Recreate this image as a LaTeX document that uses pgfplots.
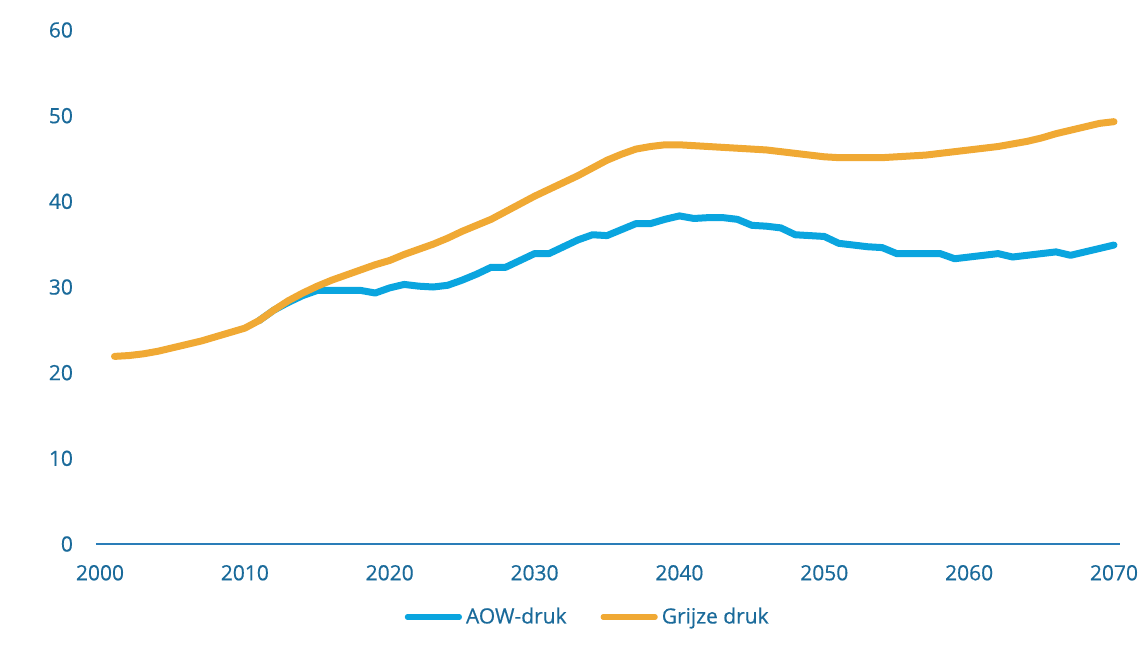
\documentclass[border=0pt]{standalone}
\usepackage{pgfplots}
\pgfplotsset{compat=1.18}
\usepackage{pgfplotstable}
\usepackage{fontspec}
\setmainfont{Open Sans}[FakeBold=0.5,AutoFakeBold=0]
\newfontfamily\lblfont{Open Sans}[FakeBold=0.5]
\definecolor{aowblue}{HTML}{0AA5DF}
\definecolor{grijsorange}{HTML}{F0A934}
\definecolor{tickblue}{HTML}{1A6A9A}
\definecolor{axisblue}{HTML}{2A7DB8}

\pgfplotstableread{
year val
2011 26.1
2012 27.3
2013 28.2
2014 29.0
2015 29.6
2016 29.6
2017 29.6
2018 29.6
2019 29.3
2020 29.9
2021 30.3
2022 30.1
2023 30.0
2024 30.2
2025 30.8
2026 31.5
2027 32.3
2028 32.3
2029 33.1
2030 33.9
2031 33.9
2032 34.7
2033 35.5
2034 36.1
2035 36.0
2036 36.7
2037 37.4
2038 37.4
2039 37.9
2040 38.3
2041 38.0
2042 38.1
2043 38.1
2044 37.9
2045 37.2
2046 37.1
2047 36.9
2048 36.1
2049 36.0
2050 35.9
2051 35.1
2052 34.9
2053 34.7
2054 34.6
2055 33.9
2056 33.9
2057 33.9
2058 33.9
2059 33.3
2060 33.5
2061 33.7
2062 33.9
2063 33.5
2064 33.7
2065 33.9
2066 34.1
2067 33.7
2068 34.1
2069 34.5
2070 34.9
}\aowdata

\pgfplotstableread{
year val
2001 21.9
2002 22.0
2003 22.2
2004 22.5
2005 22.9
2006 23.3
2007 23.7
2008 24.2
2009 24.7
2010 25.2
2011 26.1
2012 27.3
2013 28.4
2014 29.3
2015 30.1
2016 30.8
2017 31.4
2018 32.0
2019 32.6
2020 33.1
2021 33.8
2022 34.4
2023 35.0
2024 35.7
2025 36.5
2026 37.2
2027 37.9
2028 38.8
2029 39.7
2030 40.6
2031 41.4
2032 42.2
2033 43.0
2034 43.9
2035 44.8
2036 45.5
2037 46.1
2038 46.4
2039 46.6
2040 46.6
2041 46.5
2042 46.4
2043 46.3
2044 46.2
2045 46.1
2046 46.0
2047 45.8
2048 45.6
2049 45.4
2050 45.2
2051 45.1
2052 45.1
2053 45.1
2054 45.1
2055 45.2
2056 45.3
2057 45.4
2058 45.6
2059 45.8
2060 46.0
2061 46.2
2062 46.4
2063 46.7
2064 47.0
2065 47.4
2066 47.9
2067 48.3
2068 48.7
2069 49.1
2070 49.3
}\grijsdata

\begin{document}
\begin{tikzpicture}
\useasboundingbox (-50pt,-53pt) rectangle (520pt,272pt);
\begin{axis}[
  scale only axis,
  width=507pt, height=257pt,
  xmin=2000, xmax=2070,
  ymin=0, ymax=60,
  xtick={2000,2010,...,2070},
  ytick={0,10,...,60},
  axis x line*=bottom,
  axis y line*=left,
  y axis line style={draw=none},
  x axis line style={draw=axisblue, line width=0.8pt, -, shorten <=-2pt, shorten >=-3pt},
  major tick length=0pt,
  /pgf/number format/assume math mode=true,
  /pgf/number format/1000 sep={},
  tick label style={font=\lblfont\fontsize{10.5}{12}\selectfont, text=tickblue},
  xticklabel style={yshift=-7pt},
  yticklabel style={xshift=-10pt},
  clip=false,
  legend columns=2,
  legend style={draw=none, fill=none, at={(0.482,-0.142)}, anchor=center,
    font=\lblfont\fontsize{10.5}{12}\selectfont, text=tickblue,
    /tikz/every even column/.append style={column sep=15pt}},
  legend cell align=left,
  legend image code/.code={\draw[#1, line width=2.6pt, line cap=round] (0pt,0pt) -- (26pt,0pt);},
]
\addplot[aowblue, line width=3.5pt, line join=round, line cap=round] table[x=year,y=val] {\aowdata};
\addlegendentry{AOW-druk}
\addplot[grijsorange, line width=3.5pt, line join=round, line cap=round] table[x=year,y=val] {\grijsdata};
\addlegendentry{Grijze druk}
\end{axis}
\end{tikzpicture}
\end{document}
